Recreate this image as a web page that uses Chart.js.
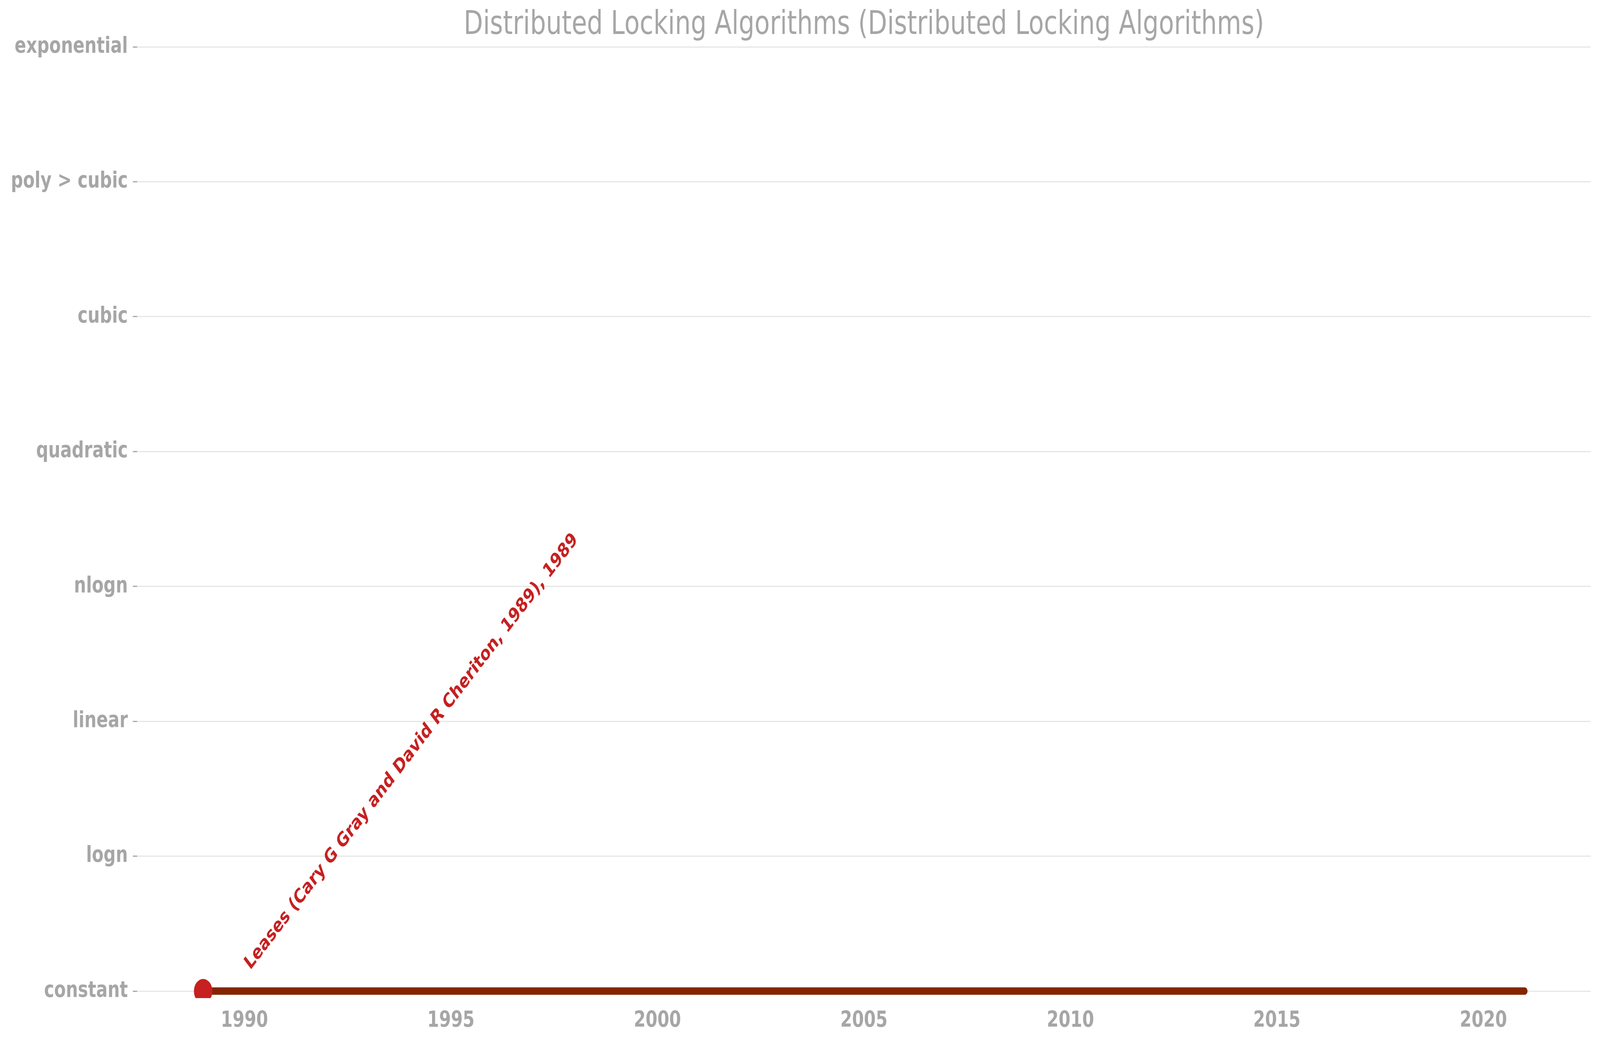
<!DOCTYPE html>
<html>
<head>
<meta charset="utf-8">
<script src="https://cdn.jsdelivr.net/npm/chart.js@4"></script>
<style>
  html, body { margin: 0; padding: 0; background: #fff; overflow: hidden; }
  canvas { display: block; }
</style>
</head>
<body>
<!-- drawn at 5370x2671 and shown at the size of the window -->
<canvas id="chart" width="5370" height="2671" style="width:100vw;height:100vh"></canvas>
<script>
// complexity classes on the y axis, bottom to top
const complexityLabels = ['constant', 'logn', 'linear', 'nlogn', 'quadratic', 'cubic', 'poly > cubic', 'exponential'];
// the single algorithm line: starts at its publication year, runs to the end year
const years = [1989, 2021];
const complexity = [0, 0];
const pointLabels = ['Leases (Cary G Gray and David R Cheriton, 1989), 1989', ''];
const yearTicks = [1990, 1995, 2000, 2005, 2010, 2015, 2020];

const grey = '#a6a6a6';
const font = 'DejaVu Sans';

// writes the rotated label next to each marked point
const pointLabelPlugin = {
  id: 'pointLabels',
  afterDatasetsDraw(chart) {
    const ctx = chart.ctx;
    const meta = chart.getDatasetMeta(0);
    meta.data.forEach((pt, i) => {
      if (!pointLabels[i]) return;
      ctx.save();
      ctx.translate(pt.x + 158, pt.y - 53);
      ctx.rotate(-Math.PI / 4);
      ctx.font = 'bold 50px "' + font + '"';
      ctx.fillStyle = '#c62020';
      ctx.textAlign = 'left';
      ctx.textBaseline = 'alphabetic';
      ctx.fillText(pointLabels[i], 0, 0);
      ctx.restore();
    });
  }
};

const ctx = document.getElementById('chart').getContext('2d');
new Chart(ctx, {
  type: 'line',
  data: {
    datasets: [{
      data: years.map((y, i) => ({ x: y, y: complexity[i] })),
      borderColor: '#832600',
      borderWidth: 19,
      borderCapStyle: 'round',
      pointRadius: [31, 0],
      pointHoverRadius: [31, 0],
      pointBackgroundColor: '#c62020',
      pointBorderWidth: 0,
      tension: 0,
      clip: 0
    }]
  },
  options: {
    responsive: false,
    animation: false,
    devicePixelRatio: 1,
    layout: { padding: { top: 0, left: 0, right: 30, bottom: 0 } },
    plugins: {
      legend: { display: false },
      tooltip: { enabled: false },
      title: {
        display: true,
        fullSize: false,
        text: 'Distributed Locking Algorithms (Distributed Locking Algorithms)',
        color: grey,
        font: { family: font, size: 84, weight: 'normal', lineHeight: 1.2 },
        padding: { top: 15, bottom: 4.2 }
      }
    },
    scales: {
      x: {
        type: 'linear',
        min: 1987.4,
        max: 2022.6,
        afterBuildTicks: axis => { axis.ticks = yearTicks.map(v => ({ value: v })); },
        afterFit: axis => { axis.height = 115; },
        grid: { display: false, drawTicks: false },
        border: { display: false },
        ticks: {
          color: grey,
          padding: 25,
          maxRotation: 0,
          font: { family: font, size: 57, weight: 'bold' },
          callback: v => String(v)
        }
      },
      y: {
        type: 'linear',
        min: -0.052,
        max: 7,
        afterBuildTicks: axis => { axis.ticks = complexityLabels.map((_, i) => ({ value: i })); },
        afterFit: axis => { axis.width = 460; },
        grid: { color: '#e6e6e6', lineWidth: 3, tickColor: grey, tickLength: 14, tickWidth: 3 },
        border: { display: false },
        ticks: {
          color: grey,
          padding: 17,
          font: { family: font, size: 57, weight: 'bold' },
          callback: v => complexityLabels[v]
        }
      }
    }
  },
  plugins: [pointLabelPlugin]
});
</script>
</body>
</html>
